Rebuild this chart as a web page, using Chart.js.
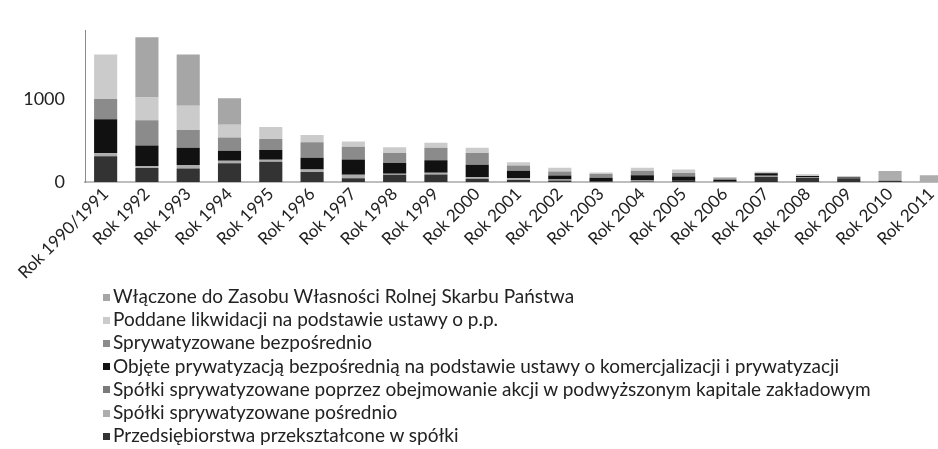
<!DOCTYPE html>
<html>
<head>
<meta charset="utf-8">
<script src="https://cdn.jsdelivr.net/npm/chart.js@4.4.0/dist/chart.umd.min.js"></script>
<style>
  html, body { margin: 0; padding: 0; background: #fff; overflow: hidden; }
  #wrap { position: relative; width: 938px; height: 449px; overflow: hidden; }
  #chart { position: absolute; left: 0; top: 0; }
  #legend { position: absolute; left: 103px; top: 284px; font-family: Lato, sans-serif; font-size: 19px; color: #222; }
  #legend div { height: 23.2px; line-height: 23.2px; white-space: nowrap; }
  #legend span.box { display: inline-block; width: 7px; height: 7px; margin-right: 3px; vertical-align: middle; position: relative; top: -1px; }
</style>
</head>
<body>
<div id="wrap">
  <canvas id="chart" width="960" height="449"></canvas>
  <div id="legend"></div>
</div>
<script>
// categories
const years = ["Rok 1990/1991", "Rok 1992", "Rok 1993", "Rok 1994", "Rok 1995", "Rok 1996", "Rok 1997",
  "Rok 1998", "Rok 1999", "Rok 2000", "Rok 2001", "Rok 2002", "Rok 2003", "Rok 2004", "Rok 2005",
  "Rok 2006", "Rok 2007", "Rok 2008", "Rok 2009", "Rok 2010", "Rok 2011"];

const yTicks = [0, 1000];

// series, bottom of the stack first
const przeksztalcone = [310, 168, 161, 225, 243, 121, 46, 86, 89, 39, 25, 18, 7, 7, 15, 7, 64, 50, 45, 15, 0];
const posrednio      = [36, 21, 43, 32, 25, 29, 40, 14, 21, 18, 21, 11, 0, 11, 0, 0, 10, 8, 5, 118, 82];
const podwyzszony    = [0, 0, 0, 0, 0, 0, 0, 0, 0, 0, 0, 0, 0, 0, 0, 0, 0, 0, 0, 0, 0];
const objete         = [410, 250, 208, 118, 118, 142, 185, 128, 153, 150, 89, 50, 43, 64, 50, 21, 30, 15, 10, 0, 0];
const bezposrednio   = [243, 304, 214, 161, 133, 185, 153, 121, 150, 142, 64, 46, 46, 54, 43, 18, 0, 0, 0, 0, 0];
const likwidacja     = [535, 274, 292, 154, 142, 90, 64, 69, 58, 64, 40, 46, 18, 36, 43, 14, 18, 20, 12, 0, 0];
const wlaczone       = [0, 725, 618, 317, 0, 0, 0, 0, 0, 0, 0, 0, 0, 0, 0, 0, 0, 0, 0, 0, 0];

const seriesNames = [
  "Przedsiębiorstwa przekształcone w spółki",
  "Spółki sprywatyzowane pośrednio",
  "Spółki sprywatyzowane poprzez obejmowanie akcji w podwyższonym kapitale zakładowym",
  "Objęte prywatyzacją bezpośrednią na podstawie ustawy o komercjalizacji i prywatyzacji",
  "Sprywatyzowane bezpośrednio",
  "Poddane likwidacji na podstawie ustawy o p.p.",
  "Włączone do Zasobu Własności Rolnej Skarbu Państwa"
];
const seriesValues = [przeksztalcone, posrednio, podwyzszony, objete, bezposrednio, likwidacja, wlaczone];
const seriesColors = ["#333333", "#adadad", "#7a7a7a", "#111111", "#8b8b8b", "#cbcbcb", "#a6a6a6"];

const font = { family: "Lato, sans-serif", size: 17 };

const chart = new Chart(document.getElementById("chart"), {
  type: "bar",
  data: {
    labels: years,
    datasets: seriesNames.map((name, i) => ({
      label: name,
      data: seriesValues[i],
      backgroundColor: seriesColors[i],
      borderWidth: 0,
      barPercentage: 0.56,
      categoryPercentage: 1
    }))
  },
  options: {
    responsive: false,
    animation: false,
    devicePixelRatio: 1,
    layout: { padding: { top: 12, right: 8, bottom: 167, left: 0 } },
    plugins: { legend: { display: false }, tooltip: { enabled: false } },
    scales: {
      x: {
        stacked: true,
        grid: { display: false, drawTicks: false },
        border: { color: "#bdbdbd", width: 2 },
        ticks: { font: font, color: "#222", maxRotation: 45, minRotation: 45, padding: 2, autoSkip: false },
        afterFit: s => { s.height = 100; }
      },
      y: {
        stacked: true,
        min: 0,
        max: 1820,
        grid: { display: false, drawTicks: false },
        border: { color: "#8a8a8a", width: 1 },
        ticks: { font: { family: "Lato, sans-serif", size: 18 }, color: "#222", padding: 20, callback: v => String(v) },
        afterBuildTicks: s => { s.ticks = yTicks.map(v => ({ value: v })); },
        afterFit: s => { s.width = 85; }
      }
    }
  }
});

// legend, top of the stack first
const legendEl = document.getElementById("legend");
for (let i = seriesNames.length - 1; i >= 0; i--) {
  const row = document.createElement("div");
  const box = document.createElement("span");
  box.className = "box";
  box.style.background = seriesColors[i];
  row.appendChild(box);
  row.appendChild(document.createTextNode(seriesNames[i]));
  legendEl.appendChild(row);
}
</script>
</body>
</html>
